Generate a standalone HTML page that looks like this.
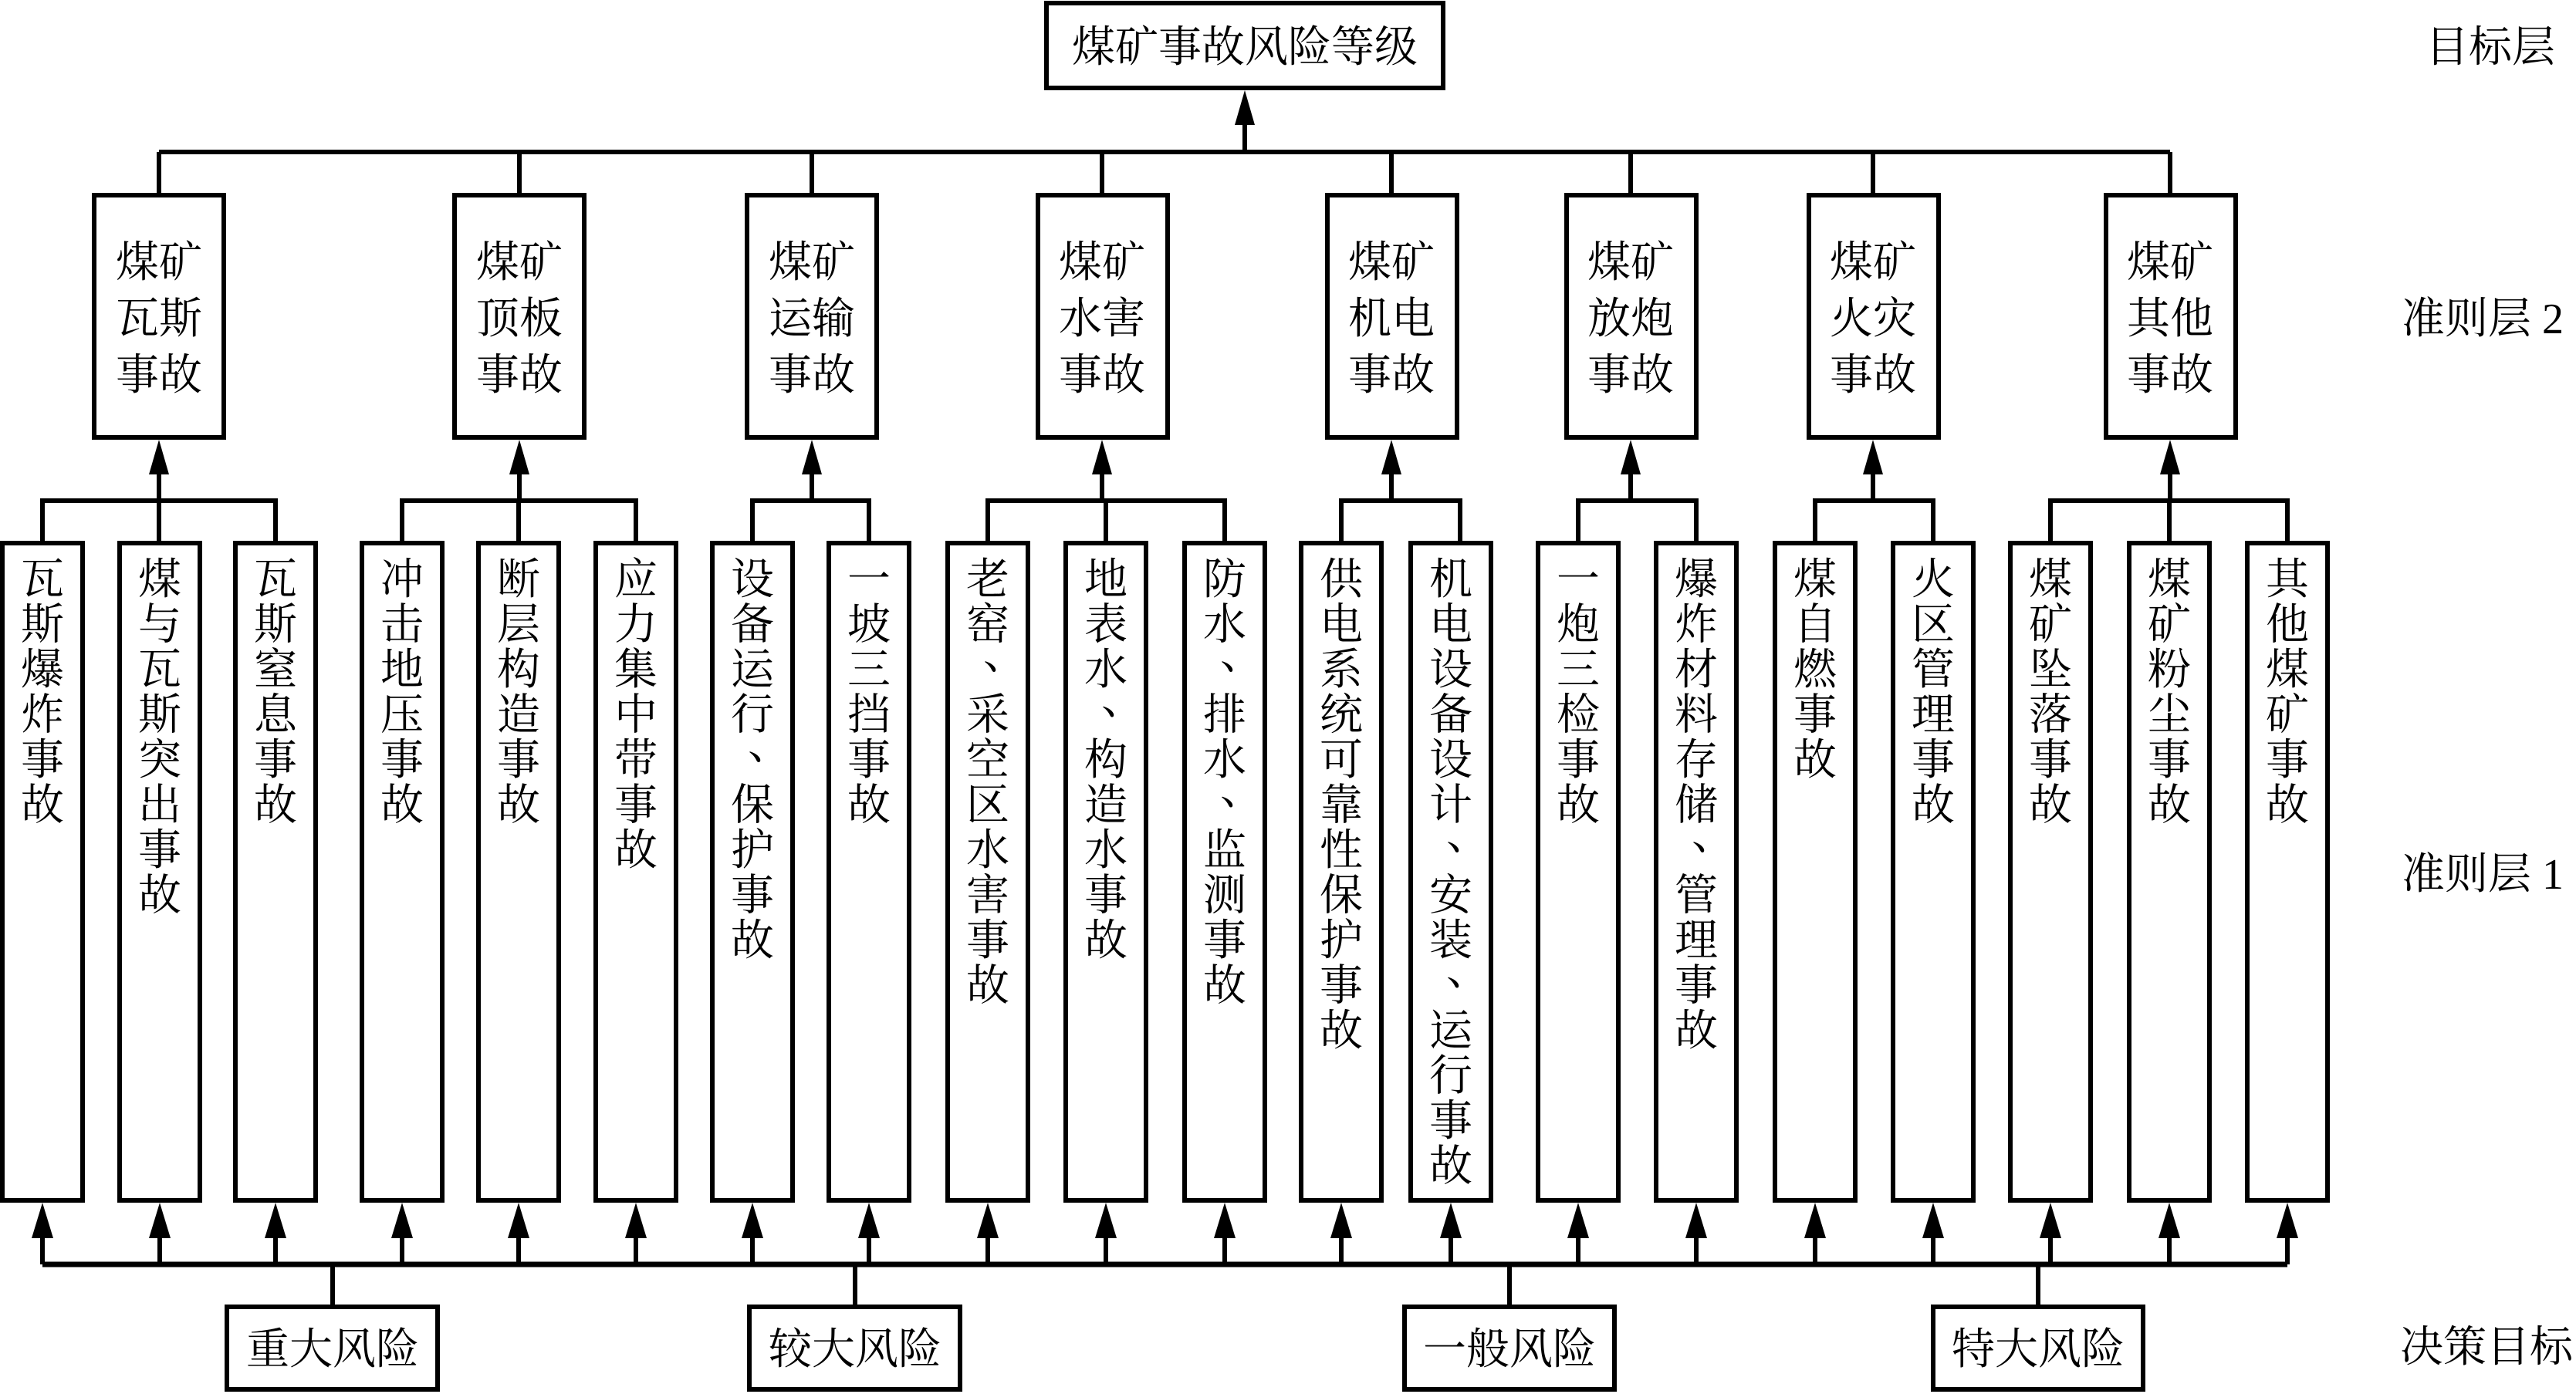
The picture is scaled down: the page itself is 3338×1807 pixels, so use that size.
<!DOCTYPE html>
<html><head><meta charset="utf-8"><style>
html,body{margin:0;padding:0;background:#fff}
svg{display:block}
text{font-family:"Liberation Serif","Noto Serif CJK SC",serif;font-size:56px;fill:#000}
.l1 text{text-anchor:middle}
</style></head><body>
<svg width="3338" height="1807" viewBox="0 0 3338 1807" xmlns="http://www.w3.org/2000/svg">
<g fill="none" stroke="#000" stroke-width="6">
<rect x="1356" y="4" width="514" height="110"/>
<line x1="206" y1="197" x2="2812" y2="197"/>
<line x1="1613" y1="197" x2="1613" y2="150"/>
<line x1="206" y1="197" x2="206" y2="252"/>
<line x1="673" y1="197" x2="673" y2="252"/>
<line x1="1052" y1="197" x2="1052" y2="252"/>
<line x1="1428" y1="197" x2="1428" y2="252"/>
<line x1="1803" y1="197" x2="1803" y2="252"/>
<line x1="2113" y1="197" x2="2113" y2="252"/>
<line x1="2427" y1="197" x2="2427" y2="252"/>
<line x1="2812" y1="197" x2="2812" y2="252"/>
<rect x="122" y="253" width="168" height="314"/>
<rect x="589" y="253" width="168" height="314"/>
<rect x="968" y="253" width="168" height="314"/>
<rect x="1345" y="253" width="168" height="314"/>
<rect x="1720" y="253" width="168" height="314"/>
<rect x="2030" y="253" width="168" height="314"/>
<rect x="2344" y="253" width="168" height="314"/>
<rect x="2729" y="253" width="168" height="314"/>
<path d="M55 702V649H357V702M206 649V610"/>
<path d="M521 702V649H824V702M672 649V702M673 649V610"/>
<path d="M975 702V649H1126V702M1052 649V610"/>
<path d="M1280 702V649H1587V702M1433 649V702M1428 649V610"/>
<path d="M1738 702V649H1892V702M1803 649V610"/>
<path d="M2045 702V649H2198V702M2113 649V610"/>
<path d="M2352 702V649H2505V702M2427 649V610"/>
<path d="M2657 702V649H2964V702M2811 649V702M2812 649V610"/>
<line x1="206" y1="649" x2="206" y2="702"/>
<rect x="3" y="704" width="104" height="852"/>
<rect x="155" y="704" width="104" height="852"/>
<rect x="305" y="704" width="104" height="852"/>
<rect x="469" y="704" width="104" height="852"/>
<rect x="620" y="704" width="104" height="852"/>
<rect x="772" y="704" width="104" height="852"/>
<rect x="923" y="704" width="104" height="852"/>
<rect x="1074" y="704" width="104" height="852"/>
<rect x="1228" y="704" width="104" height="852"/>
<rect x="1381" y="704" width="104" height="852"/>
<rect x="1535" y="704" width="104" height="852"/>
<rect x="1686" y="704" width="104" height="852"/>
<rect x="1828" y="704" width="104" height="852"/>
<rect x="1993" y="704" width="104" height="852"/>
<rect x="2146" y="704" width="104" height="852"/>
<rect x="2300" y="704" width="104" height="852"/>
<rect x="2453" y="704" width="104" height="852"/>
<rect x="2605" y="704" width="104" height="852"/>
<rect x="2759" y="704" width="104" height="852"/>
<rect x="2912" y="704" width="104" height="852"/>
<line x1="55" y1="1639" x2="2964" y2="1639" stroke-width="7"/>
<path d="M55 1639V1600M207 1639V1600M357 1639V1600M521 1639V1600M672 1639V1600M824 1639V1600M975 1639V1600M1126 1639V1600M1280 1639V1600M1433 1639V1600M1587 1639V1600M1738 1639V1600M1880 1639V1600M2045 1639V1600M2198 1639V1600M2352 1639V1600M2505 1639V1600M2657 1639V1600M2811 1639V1600M2964 1639V1600"/>
<path d="M431 1639V1691M1108 1639V1691M1956 1639V1691M2641 1639V1691"/>
<rect x="294" y="1694" width="273" height="107"/>
<rect x="971" y="1694" width="273" height="107"/>
<rect x="1820" y="1694" width="272" height="107"/>
<rect x="2505" y="1694" width="272" height="107"/>
</g>
<g fill="#000">
<polygon points="1613,117 1600,162 1626,162"/>
<polygon points="206,570 193,615 219,615"/>
<polygon points="673,570 660,615 686,615"/>
<polygon points="1052,570 1039,615 1065,615"/>
<polygon points="1428,570 1415,615 1441,615"/>
<polygon points="1803,570 1790,615 1816,615"/>
<polygon points="2113,570 2100,615 2126,615"/>
<polygon points="2427,570 2414,615 2440,615"/>
<polygon points="2812,570 2799,615 2825,615"/>
<polygon points="55,1559 41,1605 69,1605"/>
<polygon points="207,1559 193,1605 221,1605"/>
<polygon points="357,1559 343,1605 371,1605"/>
<polygon points="521,1559 507,1605 535,1605"/>
<polygon points="672,1559 658,1605 686,1605"/>
<polygon points="824,1559 810,1605 838,1605"/>
<polygon points="975,1559 961,1605 989,1605"/>
<polygon points="1126,1559 1112,1605 1140,1605"/>
<polygon points="1280,1559 1266,1605 1294,1605"/>
<polygon points="1433,1559 1419,1605 1447,1605"/>
<polygon points="1587,1559 1573,1605 1601,1605"/>
<polygon points="1738,1559 1724,1605 1752,1605"/>
<polygon points="1880,1559 1866,1605 1894,1605"/>
<polygon points="2045,1559 2031,1605 2059,1605"/>
<polygon points="2198,1559 2184,1605 2212,1605"/>
<polygon points="2352,1559 2338,1605 2366,1605"/>
<polygon points="2505,1559 2491,1605 2519,1605"/>
<polygon points="2657,1559 2643,1605 2671,1605"/>
<polygon points="2811,1559 2797,1605 2825,1605"/>
<polygon points="2964,1559 2950,1605 2978,1605"/>
</g>
<text x="1613" y="80" text-anchor="middle" font-size="58">煤矿事故风险等级</text>
<g text-anchor="middle">
<text x="206" y="359">煤矿</text><text x="206" y="432">瓦斯</text><text x="206" y="505">事故</text>
<text x="673" y="359">煤矿</text><text x="673" y="432">顶板</text><text x="673" y="505">事故</text>
<text x="1052" y="359">煤矿</text><text x="1052" y="432">运输</text><text x="1052" y="505">事故</text>
<text x="1428" y="359">煤矿</text><text x="1428" y="432">水害</text><text x="1428" y="505">事故</text>
<text x="1803" y="359">煤矿</text><text x="1803" y="432">机电</text><text x="1803" y="505">事故</text>
<text x="2113" y="359">煤矿</text><text x="2113" y="432">放炮</text><text x="2113" y="505">事故</text>
<text x="2427" y="359">煤矿</text><text x="2427" y="432">火灾</text><text x="2427" y="505">事故</text>
<text x="2812" y="359">煤矿</text><text x="2812" y="432">其他</text><text x="2812" y="505">事故</text>
<text x="431" y="1768">重大风险</text>
<text x="1108" y="1768">较大风险</text>
<text x="1956" y="1768">一般风险</text>
<text x="2641" y="1768">特大风险</text>
</g>
<text x="3143" y="80" font-size="54">目标层</text>
<text x="3112" y="432" font-size="54">准则层 2</text>
<text x="3112" y="1152" font-size="54">准则层 1</text>
<text x="3110" y="1765" font-size="54">决策目标</text>
<g class="l1" font-size="56">
<text x="55" y="770"><tspan x="55">瓦</tspan><tspan x="55" dy="58.5">斯</tspan><tspan x="55" dy="58.5">爆</tspan><tspan x="55" dy="58.5">炸</tspan><tspan x="55" dy="58.5">事</tspan><tspan x="55" dy="58.5">故</tspan></text>
<text x="207" y="770"><tspan x="207">煤</tspan><tspan x="207" dy="58.5">与</tspan><tspan x="207" dy="58.5">瓦</tspan><tspan x="207" dy="58.5">斯</tspan><tspan x="207" dy="58.5">突</tspan><tspan x="207" dy="58.5">出</tspan><tspan x="207" dy="58.5">事</tspan><tspan x="207" dy="58.5">故</tspan></text>
<text x="357" y="770"><tspan x="357">瓦</tspan><tspan x="357" dy="58.5">斯</tspan><tspan x="357" dy="58.5">窒</tspan><tspan x="357" dy="58.5">息</tspan><tspan x="357" dy="58.5">事</tspan><tspan x="357" dy="58.5">故</tspan></text>
<text x="521" y="770"><tspan x="521">冲</tspan><tspan x="521" dy="58.5">击</tspan><tspan x="521" dy="58.5">地</tspan><tspan x="521" dy="58.5">压</tspan><tspan x="521" dy="58.5">事</tspan><tspan x="521" dy="58.5">故</tspan></text>
<text x="672" y="770"><tspan x="672">断</tspan><tspan x="672" dy="58.5">层</tspan><tspan x="672" dy="58.5">构</tspan><tspan x="672" dy="58.5">造</tspan><tspan x="672" dy="58.5">事</tspan><tspan x="672" dy="58.5">故</tspan></text>
<text x="824" y="770"><tspan x="824">应</tspan><tspan x="824" dy="58.5">力</tspan><tspan x="824" dy="58.5">集</tspan><tspan x="824" dy="58.5">中</tspan><tspan x="824" dy="58.5">带</tspan><tspan x="824" dy="58.5">事</tspan><tspan x="824" dy="58.5">故</tspan></text>
<text x="975" y="770"><tspan x="975">设</tspan><tspan x="975" dy="58.5">备</tspan><tspan x="975" dy="58.5">运</tspan><tspan x="975" dy="58.5">行</tspan><tspan x="997" dy="38.5">、</tspan><tspan x="975" dy="78.5">保</tspan><tspan x="975" dy="58.5">护</tspan><tspan x="975" dy="58.5">事</tspan><tspan x="975" dy="58.5">故</tspan></text>
<text x="1126" y="770"><tspan x="1126">一</tspan><tspan x="1126" dy="58.5">坡</tspan><tspan x="1126" dy="58.5">三</tspan><tspan x="1126" dy="58.5">挡</tspan><tspan x="1126" dy="58.5">事</tspan><tspan x="1126" dy="58.5">故</tspan></text>
<text x="1280" y="770"><tspan x="1280">老</tspan><tspan x="1280" dy="58.5">窑</tspan><tspan x="1302" dy="38.5">、</tspan><tspan x="1280" dy="78.5">采</tspan><tspan x="1280" dy="58.5">空</tspan><tspan x="1280" dy="58.5">区</tspan><tspan x="1280" dy="58.5">水</tspan><tspan x="1280" dy="58.5">害</tspan><tspan x="1280" dy="58.5">事</tspan><tspan x="1280" dy="58.5">故</tspan></text>
<text x="1433" y="770"><tspan x="1433">地</tspan><tspan x="1433" dy="58.5">表</tspan><tspan x="1433" dy="58.5">水</tspan><tspan x="1455" dy="38.5">、</tspan><tspan x="1433" dy="78.5">构</tspan><tspan x="1433" dy="58.5">造</tspan><tspan x="1433" dy="58.5">水</tspan><tspan x="1433" dy="58.5">事</tspan><tspan x="1433" dy="58.5">故</tspan></text>
<text x="1587" y="770"><tspan x="1587">防</tspan><tspan x="1587" dy="58.5">水</tspan><tspan x="1609" dy="38.5">、</tspan><tspan x="1587" dy="78.5">排</tspan><tspan x="1587" dy="58.5">水</tspan><tspan x="1609" dy="38.5">、</tspan><tspan x="1587" dy="78.5">监</tspan><tspan x="1587" dy="58.5">测</tspan><tspan x="1587" dy="58.5">事</tspan><tspan x="1587" dy="58.5">故</tspan></text>
<text x="1738" y="770"><tspan x="1738">供</tspan><tspan x="1738" dy="58.5">电</tspan><tspan x="1738" dy="58.5">系</tspan><tspan x="1738" dy="58.5">统</tspan><tspan x="1738" dy="58.5">可</tspan><tspan x="1738" dy="58.5">靠</tspan><tspan x="1738" dy="58.5">性</tspan><tspan x="1738" dy="58.5">保</tspan><tspan x="1738" dy="58.5">护</tspan><tspan x="1738" dy="58.5">事</tspan><tspan x="1738" dy="58.5">故</tspan></text>
<text x="1880" y="770"><tspan x="1880">机</tspan><tspan x="1880" dy="58.5">电</tspan><tspan x="1880" dy="58.5">设</tspan><tspan x="1880" dy="58.5">备</tspan><tspan x="1880" dy="58.5">设</tspan><tspan x="1880" dy="58.5">计</tspan><tspan x="1902" dy="38.5">、</tspan><tspan x="1880" dy="78.5">安</tspan><tspan x="1880" dy="58.5">装</tspan><tspan x="1902" dy="38.5">、</tspan><tspan x="1880" dy="78.5">运</tspan><tspan x="1880" dy="58.5">行</tspan><tspan x="1880" dy="58.5">事</tspan><tspan x="1880" dy="58.5">故</tspan></text>
<text x="2045" y="770"><tspan x="2045">一</tspan><tspan x="2045" dy="58.5">炮</tspan><tspan x="2045" dy="58.5">三</tspan><tspan x="2045" dy="58.5">检</tspan><tspan x="2045" dy="58.5">事</tspan><tspan x="2045" dy="58.5">故</tspan></text>
<text x="2198" y="770"><tspan x="2198">爆</tspan><tspan x="2198" dy="58.5">炸</tspan><tspan x="2198" dy="58.5">材</tspan><tspan x="2198" dy="58.5">料</tspan><tspan x="2198" dy="58.5">存</tspan><tspan x="2198" dy="58.5">储</tspan><tspan x="2220" dy="38.5">、</tspan><tspan x="2198" dy="78.5">管</tspan><tspan x="2198" dy="58.5">理</tspan><tspan x="2198" dy="58.5">事</tspan><tspan x="2198" dy="58.5">故</tspan></text>
<text x="2352" y="770"><tspan x="2352">煤</tspan><tspan x="2352" dy="58.5">自</tspan><tspan x="2352" dy="58.5">燃</tspan><tspan x="2352" dy="58.5">事</tspan><tspan x="2352" dy="58.5">故</tspan></text>
<text x="2505" y="770"><tspan x="2505">火</tspan><tspan x="2505" dy="58.5">区</tspan><tspan x="2505" dy="58.5">管</tspan><tspan x="2505" dy="58.5">理</tspan><tspan x="2505" dy="58.5">事</tspan><tspan x="2505" dy="58.5">故</tspan></text>
<text x="2657" y="770"><tspan x="2657">煤</tspan><tspan x="2657" dy="58.5">矿</tspan><tspan x="2657" dy="58.5">坠</tspan><tspan x="2657" dy="58.5">落</tspan><tspan x="2657" dy="58.5">事</tspan><tspan x="2657" dy="58.5">故</tspan></text>
<text x="2811" y="770"><tspan x="2811">煤</tspan><tspan x="2811" dy="58.5">矿</tspan><tspan x="2811" dy="58.5">粉</tspan><tspan x="2811" dy="58.5">尘</tspan><tspan x="2811" dy="58.5">事</tspan><tspan x="2811" dy="58.5">故</tspan></text>
<text x="2964" y="770"><tspan x="2964">其</tspan><tspan x="2964" dy="58.5">他</tspan><tspan x="2964" dy="58.5">煤</tspan><tspan x="2964" dy="58.5">矿</tspan><tspan x="2964" dy="58.5">事</tspan><tspan x="2964" dy="58.5">故</tspan></text>
</g>
</svg>
</body></html>
